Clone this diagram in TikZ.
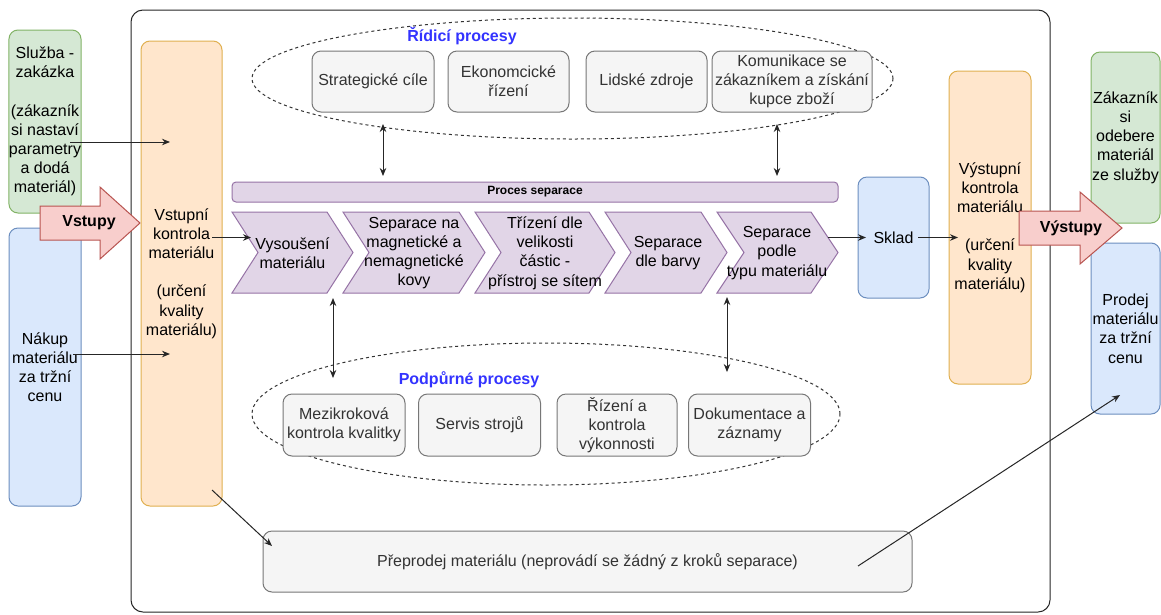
\documentclass[tikz,border=0pt]{standalone}
\usepackage{fontspec}
\setmainfont{Liberation Sans}
\usetikzlibrary{arrows.meta}
\definecolor{grnF}{HTML}{D5E8D4}\definecolor{grnS}{HTML}{82B366}
\definecolor{bluF}{HTML}{DAE8FC}\definecolor{bluS}{HTML}{6C8EBF}
\definecolor{orgF}{HTML}{FFE6CC}\definecolor{orgS}{HTML}{E0B050}
\definecolor{purF}{HTML}{E1D5E7}\definecolor{purS}{HTML}{9673A6}
\definecolor{redF}{HTML}{F8CECC}\definecolor{redS}{HTML}{B85450}
\definecolor{gryF}{HTML}{F5F5F5}\definecolor{gryS}{HTML}{777777}
\definecolor{gryT}{HTML}{333333}
\definecolor{lblue}{HTML}{3333FF}
\begin{document}
\begin{tikzpicture}[x=1pt,y=-1pt,line width=1pt,
  >={Stealth[length=8pt,width=6.5pt]},
  every node/.style={font=\fontsize{16}{19.2}\selectfont, align=center, inner sep=0pt},
  box/.style={draw, rounded corners=9pt},
  gbox/.style={box, fill=gryF, draw=gryS, text=gryT, minimum height=61pt},
  grnbox/.style={box, fill=grnF, draw=grnS},
  blubox/.style={box, fill=bluF, draw=bluS},
  orgbox/.style={box, fill=orgF, draw=orgS},
  pbar/.style={draw=purS, fill=purF, rounded corners=4pt},
  chev/.style={draw=purS, fill=purF, line join=miter},
  ell/.style={draw=black!80, dash pattern=on 3pt off 3pt},
  lbl/.style={font=\bfseries\fontsize{16}{19.2}\selectfont, text=lblue},
  con/.style={draw=black!85, ->},
  dcon/.style={draw=black!85, <->},
  bigarr/.style={draw=redS, fill=redF, line join=miter},
  bigtxt/.style={font=\bfseries\fontsize{16}{19.2}\selectfont},
]
\useasboundingbox (0,0) rectangle (1161,614);
\fill[white] (0,0) rectangle (1161,614);

% frame
\draw[draw=black!85, rounded corners=12pt] (131,10) rectangle (1050,612);

% ellipses
\draw[ell] (572.5,78.5) ellipse [x radius=320.5pt, y radius=60.5pt];
\draw[ell] (546,414) ellipse [x radius=294pt, y radius=71pt];

\node[lbl] (ridici) at (462,36) {Řídicí procesy};
\node[lbl] (podpurne) at (469,380) {Podpůrné procesy};

% control processes
\node[gbox, minimum width=122pt] (strat) at (373,81.5) {Strategické cíle};
\node[gbox, minimum width=121pt] (ekon) at (508.5,81.5) {Ekonomcické\\řízení};
\node[gbox, minimum width=121pt] (lid) at (646.5,81.5) {Lidské zdroje};
\node[gbox, minimum width=160pt] (kom) at (792,81.5) {Komunikace se\\zákazníkem a získání\\kupce zboží};

% support processes
\node[gbox, minimum width=122pt, minimum height=62pt] (mez) at (344,425) {Mezikroková\\kontrola kvalitky};
\node[gbox, minimum width=122pt, minimum height=62pt] (serv) at (479.5,425) {Servis strojů};
\node[gbox, minimum width=120pt, minimum height=62pt] (riz) at (617,425) {Řízení a\\kontrola\\výkonnosti};
\node[gbox, minimum width=122pt, minimum height=62pt] (dok) at (749.5,425) {Dokumentace a\\záznamy};

% resale
\node[gbox, minimum width=649pt, minimum height=61pt] (prep) at (587.5,561.5) {Přeprodej materiálu (neprovádí se žádný z kroků separace)};

% left boxes
\node[grnbox, minimum width=72pt, minimum height=183pt] (sluz) at (45,121.5) {Služba -\\zakázka\\[19.2pt](zákazník\\si nastaví\\parametry\\a dodá\\materiál)};
\node[blubox, minimum width=72pt, minimum height=278pt] (nak) at (45,367) {Nákup\\materiálu\\za tržní\\cenu};
\node[orgbox, minimum width=81pt, minimum height=465pt] (vk) at (181.5,273.5) {Vstupní\\kontrola\\materiálu\\[19.2pt](určení\\kvality\\materiálu)};

% right boxes
\node[blubox, minimum width=71pt, minimum height=121pt] (sklad) at (893.5,237.5) {Sklad};
\node[orgbox, minimum width=82pt, minimum height=313pt] (vyk) at (990,227.5) {Výstupní\\kontrola\\materiálu\\[19.2pt](určení\\kvality\\materiálu)};
\node[grnbox, minimum width=69pt, minimum height=171pt] (zak) at (1125.5,137.5) {Zákazník\\si\\odebere\\materiál\\ze služby};
\node[blubox, minimum width=69pt, minimum height=171pt] (prod) at (1125.5,328.5) {Prodej\\materiálu\\za tržní\\cenu};

% process bar
\node[pbar, minimum width=606pt, minimum height=20pt] (bar) at (535,192) {\bfseries\fontsize{12}{14}\selectfont Proces separace};

% chevrons
\draw[chev] (232,212) -- (327,212) -- (353,252.5) -- (327,293) -- (232,293) -- (258,252.5) -- cycle;
\draw[chev] (343,212) -- (459,212) -- (485,252.5) -- (459,293) -- (343,293) -- (369,252.5) -- cycle;
\draw[chev] (475,212) -- (589,212) -- (615,252.5) -- (589,293) -- (475,293) -- (501,252.5) -- cycle;
\draw[chev] (605,212) -- (701,212) -- (727,252.5) -- (701,293) -- (605,293) -- (631,252.5) -- cycle;
\draw[chev] (717,212) -- (811,212) -- (838,252.5) -- (811,293) -- (717,293) -- (744,252.5) -- cycle;
\node (c1) at (292.5,253) {Vysoušení\\materiálu};
\node (c2) at (414,253) {Separace na\\magnetické a\\nemagnetické\\kovy};
\node (c3) at (545,253) {Třízení dle\\velikosti\\částic -\\přístroj se sítem};
\node (c4) at (668,253) {Separace\\dle barvy};
\node (c5) at (777,253) {Separace\\podle\\typu materiálu};

% coordinates for connector ends
\coordinate (sOut) at (70,142);
\coordinate (sIn) at (170,142);
\coordinate (nOut) at (73,354);
\coordinate (nIn) at (170,354);
\coordinate (vkOut) at (212,237.5);
\coordinate (c1In) at (251,237.5);
\coordinate (stratB) at (383,124);
\coordinate (barT1) at (383,176);
\coordinate (komB) at (777,124);
\coordinate (barT2) at (777,176);
\coordinate (c1B) at (333,298);
\coordinate (mezT) at (333,378);
\coordinate (c5B) at (727,297);
\coordinate (dokT) at (727,372);
\coordinate (c5Out) at (828,237.5);
\coordinate (skIn) at (866,237.5);
\coordinate (skOut) at (918,237.5);
\coordinate (vykIn) at (958,237.5);
\coordinate (vkLow) at (212,490);
\coordinate (prepIn) at (272,546);
\coordinate (prepOut) at (858,566);
\coordinate (prodIn) at (1120,395);

% connectors
\draw[con] (sOut) -- (sIn);
\draw[con] (nOut) -- (nIn);
\draw[con] (vkOut) -- (c1In);
\draw[dcon] (stratB) -- (barT1);
\draw[dcon] (komB) -- (barT2);
\draw[dcon] (c1B) -- (mezT);
\draw[dcon] (c5B) -- (dokT);
\draw[con] (c5Out) -- (skIn);
\draw[con] (skOut) -- (vykIn);
\draw[con] (vkLow) -- (prepIn);
\draw[con] (prepOut) -- (prodIn);

% big arrows
\draw[bigarr] (40,206) -- (100,206) -- (100,187) -- (140,223) -- (100,259) -- (100,240) -- (40,240) -- cycle;
\node[bigtxt] (vstupy) at (89,223) {Vstupy};
\draw[bigarr] (1019,211) -- (1080,211) -- (1080,192) -- (1122,228) -- (1080,264) -- (1080,245) -- (1019,245) -- cycle;
\node[bigtxt] (vystupy) at (1071,228) {Výstupy};
\end{tikzpicture}
\end{document}
